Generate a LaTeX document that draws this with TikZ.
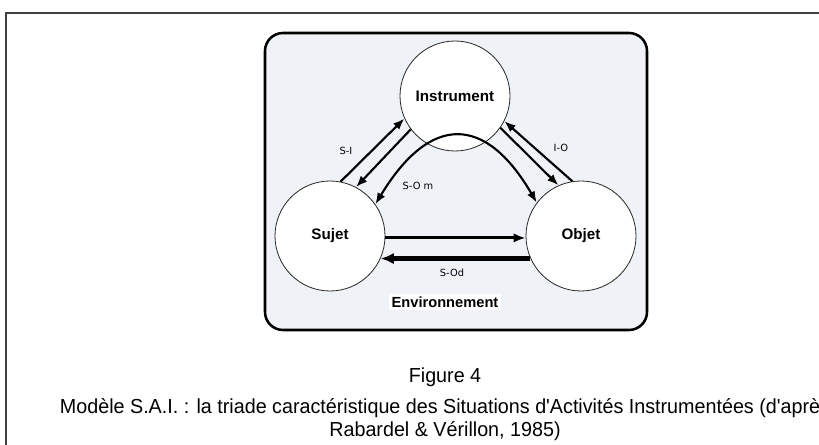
\documentclass[tikz,border=0pt]{standalone}
\usepackage{fontspec}
\setmainfont{Liberation Sans}
\newfontfamily\lblfont{DejaVu Sans}
\usetikzlibrary{arrows.meta}
\definecolor{boxfill}{HTML}{EFF3F7}
\definecolor{framegray}{HTML}{404040}
\begin{document}
\begin{tikzpicture}[x=0.75pt,y=-0.75pt,
  circ/.style={circle,draw=black!85,line width=0.6pt,fill=white,minimum size=82.5pt,inner sep=0pt,font=\bfseries\fontsize{11.4}{13}\selectfont},
  arr/.style={line width=1.6pt,-{Latex[length=8.5pt,width=6.5pt]}},
  lbl/.style={font=\lblfont\fontsize{7.4}{9}\selectfont,inner sep=0pt},
  captext/.style={font=\fontsize{14.5}{16}\selectfont,inner sep=0pt}]
\useasboundingbox (0,0) rectangle (819,445);
\clip (0,0) rectangle (819,445);
\fill[white] (0,0) rectangle (819,445);
\draw[framegray,line width=1.2pt] (6,460) -- (6,13) -- (840,13);
\draw[line width=1.9pt,fill=boxfill,rounded corners=13.5pt] (265,33) rectangle (647,330);
\node[circ] (I) at (455,96) {Instrument};
\node[circ] (S) at (330,236) {Sujet};
\node[circ] (O) at (581,236) {Objet};
% S-I
\draw[arr] (S.79) -- (I.204);
\draw[arr] (I.217) -- (S.62);
% I-O
\draw[arr] (O.99) -- (I.333);
\draw[arr] (I.325) -- (O.114);
% S-O m
\draw[line width=1.6pt,{Latex[length=8.5pt,width=6.5pt]}-{Latex[length=8.5pt,width=6.5pt]}] (S.35) .. controls (430,114) and (485,114) .. (O.143);
% S-O direct
\draw[line width=2.2pt,-{Latex[length=9pt,width=7pt]}] (S.-2) -- (O.182);
\draw[line width=3.2pt,-{Latex[length=10pt,width=8.5pt]}] (O.204.6) -- (S.-24.6);
\node[lbl] (lsi) at (346,151) {S-I};
\node[lbl] (lio) at (561,148) {I-O};
\node[lbl] (lsom) at (418,186) {S-O m};
\node[lbl] (lsod) at (452,273) {S-Od};
\node[fill=white,inner sep=2pt,font=\bfseries\fontsize{11}{13}\selectfont] (env) at (445,302) {Environnement};
\node[captext] (fig) at (445,377) {\scalebox{1.02}[1.05]{Figure 4}};
\node[captext] (c1) at (445,408) {\scalebox{1.02}[1.05]{Modèle S.A.I. : la triade caractéristique des Situations d\textquotesingle Activités Instrumentées (d\textquotesingle après}};
\node[captext] (c2) at (445,431) {\scalebox{1.02}[1.05]{Rabardel \& Vérillon, 1985)}};
\end{tikzpicture}
\end{document}
